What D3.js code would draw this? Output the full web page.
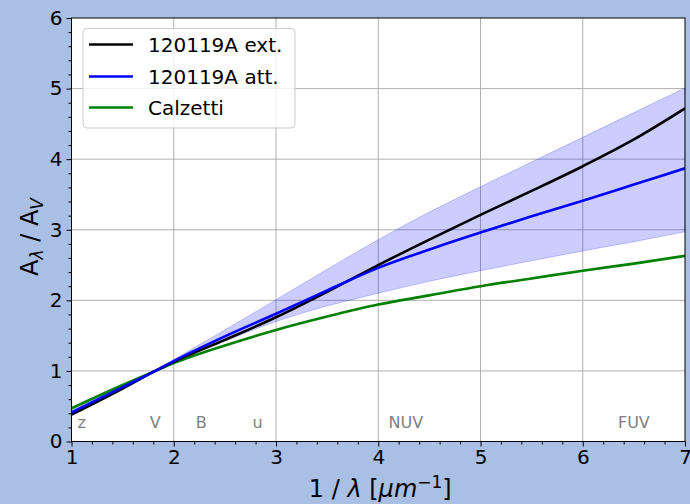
<!DOCTYPE html>
<html>
<head>
<meta charset="utf-8">
<script src="https://cdn.jsdelivr.net/npm/d3@7"></script>
<style>
  html, body { margin: 0; padding: 0; background: #aabfe4; }
  svg { display: block; }
  text { font-family: "DejaVu Sans", sans-serif; }
</style>
</head>
<body>
<svg id="chart" width="690" height="504"></svg>
<script>
// Inverse wavelength grid (1/um) at which the curves are tabulated
const invLambda = [1.0, 1.5, 1.82, 2.0, 2.5, 3.0, 3.5, 4.0, 4.5, 5.0, 5.5, 6.0, 6.5, 7.0];

// A_lambda / A_V for each curve
const extCurve   = [0.38, 0.75, 1.00, 1.13, 1.44, 1.76, 2.12, 2.50, 2.86, 3.21, 3.55, 3.90, 4.28, 4.72];
const attCurve   = [0.41, 0.77, 1.00, 1.14, 1.49, 1.81, 2.14, 2.46, 2.72, 2.96, 3.19, 3.41, 3.64, 3.87];
const calzetti   = [0.47, 0.80, 1.00, 1.11, 1.36, 1.58, 1.77, 1.94, 2.07, 2.20, 2.31, 2.42, 2.52, 2.63];

// Uncertainty envelope of the attenuation curve
const attUpper   = [0.44, 0.79, 1.00, 1.16, 1.58, 2.01, 2.44, 2.86, 3.25, 3.61, 3.96, 4.31, 4.66, 5.01];
const attLower   = [0.38, 0.74, 1.00, 1.12, 1.42, 1.70, 1.92, 2.10, 2.27, 2.42, 2.56, 2.70, 2.83, 2.97];

// Photometric band markers
const bandNames  = ["z", "V", "B", "u", "NUV", "FUV"];
const bandPos    = [1.10, 1.82, 2.27, 2.82, 4.27, 6.50];

// Axis ticks
const xTicks = [1, 2, 3, 4, 5, 6, 7];
const yTicks = [0, 1, 2, 3, 4, 5, 6];

const legendNames  = ["120119A ext.", "120119A att.", "Calzetti"];
const legendColors = ["#000000", "#0000ff", "#008000"];

const svg = d3.select("#chart");
const x = d3.scaleLinear().domain([1, 7]).range([71.5, 685]);
const y = d3.scaleLinear().domain([0, 6]).range([441.5, 18]);

// plot background
svg.append("rect")
  .attr("x", x(1)).attr("y", y(6))
  .attr("width", x(7) - x(1)).attr("height", y(0) - y(6))
  .attr("fill", "#ffffff");

const clip = svg.append("defs").append("clipPath").attr("id", "plotclip");
clip.append("rect")
  .attr("x", x(1)).attr("y", y(6))
  .attr("width", x(7) - x(1)).attr("height", y(0) - y(6));

// grid
const grid = svg.append("g");
grid.selectAll("line.gx").data(xTicks.slice(1, -1)).join("line")
  .attr("x1", d => x(d)).attr("x2", d => x(d))
  .attr("y1", y(0)).attr("y2", y(6))
  .attr("stroke", "#b0b0b0").attr("stroke-width", 1);
grid.selectAll("line.gy").data(yTicks.slice(1, -1)).join("line")
  .attr("y1", d => y(d)).attr("y2", d => y(d))
  .attr("x1", x(1)).attr("x2", x(7))
  .attr("stroke", "#b0b0b0").attr("stroke-width", 1);

const plot = svg.append("g").attr("clip-path", "url(#plotclip)");

// shaded envelope
const rows = invLambda.map((v, i) => ({ v, lo: attLower[i], hi: attUpper[i] }));
plot.append("path")
  .datum(rows)
  .attr("d", d3.area().x(d => x(d.v)).y0(d => y(d.lo)).y1(d => y(d.hi)).curve(d3.curveMonotoneX))
  .attr("fill", "#0000ff").attr("fill-opacity", 0.2)
  .attr("stroke", "#0000ff").attr("stroke-opacity", 0.2).attr("stroke-width", 1);

const line = d3.line().x(d => x(d[0])).y(d => y(d[1])).curve(d3.curveMonotoneX);
const series = [
  { vals: calzetti, color: "#008000" },
  { vals: extCurve, color: "#000000" },
  { vals: attCurve, color: "#0000ff" }
];
series.forEach(s => {
  plot.append("path")
    .datum(invLambda.map((v, i) => [v, s.vals[i]]))
    .attr("d", line)
    .attr("fill", "none")
    .attr("stroke", s.color)
    .attr("stroke-width", 2.6)
    .attr("stroke-linejoin", "round");
});

// band labels
svg.append("g").selectAll("text").data(bandNames).join("text")
  .attr("x", (d, i) => x(bandPos[i]))
  .attr("y", 427.5)
  .attr("text-anchor", "middle")
  .attr("font-size", 16)
  .attr("fill", "#808080")
  .text(d => d);

// frame
svg.append("rect")
  .attr("x", x(1)).attr("y", y(6))
  .attr("width", x(7) - x(1)).attr("height", y(0) - y(6))
  .attr("fill", "none").attr("stroke", "#000000").attr("stroke-width", 1);

// axes
const minorX = d3.range(1, 7.001, 0.2).filter(v => Math.abs(v - Math.round(v)) > 1e-6);
const minorY = d3.range(0, 6.001, 0.2).filter(v => Math.abs(v - Math.round(v)) > 1e-6);

const xAxis = svg.append("g").attr("transform", `translate(0,${y(0)})`)
  .call(d3.axisBottom(x).tickValues(xTicks).tickFormat(d3.format("d")).tickSize(5).tickPadding(3));
const xMinor = svg.append("g").attr("transform", `translate(0,${y(0)})`)
  .call(d3.axisBottom(x).tickValues(minorX).tickFormat("").tickSize(3));
const yAxis = svg.append("g").attr("transform", `translate(${x(1)},0)`)
  .call(d3.axisLeft(y).tickValues(yTicks).tickFormat(d3.format("d")).tickSize(5).tickPadding(4));
const yMinor = svg.append("g").attr("transform", `translate(${x(1)},0)`)
  .call(d3.axisLeft(y).tickValues(minorY).tickFormat("").tickSize(3));

[xAxis, xMinor, yAxis, yMinor].forEach(g => {
  g.select(".domain").remove();
  g.selectAll("line").attr("stroke", "#000000").attr("stroke-width", 1);
  g.selectAll("text").attr("font-size", 20).attr("fill", "#000000")
    .attr("font-family", "DejaVu Sans, sans-serif");
});

// axis titles
const xl = svg.append("text")
  .attr("x", (x(1) + x(7)) / 2 + 2).attr("y", 497)
  .attr("text-anchor", "middle").attr("font-size", 24).attr("fill", "#000");
xl.append("tspan").text("1 / ");
xl.append("tspan").attr("font-style", "italic").text("λ");
xl.append("tspan").text(" [");
xl.append("tspan").attr("font-style", "italic").text("μm");
xl.append("tspan").attr("font-size", 17).attr("dy", -9).text("−1");
xl.append("tspan").attr("dy", 9).text("]");

const yl = svg.append("text")
  .attr("transform", `translate(38,${237}) rotate(-90)`)
  .attr("text-anchor", "middle").attr("font-size", 24).attr("fill", "#000");
yl.append("tspan").text("A");
yl.append("tspan").attr("font-size", 17).attr("font-style", "italic").attr("dy", 5).text("λ");
yl.append("tspan").attr("dy", -5).text(" / A");
yl.append("tspan").attr("font-size", 17).attr("font-style", "italic").attr("dy", 5).text("V");

// legend
const lg = svg.append("g");
lg.append("rect")
  .attr("x", 83).attr("y", 28.5).attr("width", 212).attr("height", 99.5)
  .attr("rx", 4).attr("ry", 4)
  .attr("fill", "#ffffff").attr("fill-opacity", 0.8)
  .attr("stroke", "#cccccc").attr("stroke-width", 1);
const rowY = [44.5, 76.5, 107.5];
legendNames.forEach((name, i) => {
  lg.append("line")
    .attr("x1", 89).attr("x2", 133)
    .attr("y1", rowY[i]).attr("y2", rowY[i])
    .attr("stroke", legendColors[i]).attr("stroke-width", 2.6);
  lg.append("text")
    .attr("x", 148).attr("y", rowY[i] + 7)
    .attr("font-size", 20).attr("fill", "#000")
    .text(name);
});
</script>
</body>
</html>
